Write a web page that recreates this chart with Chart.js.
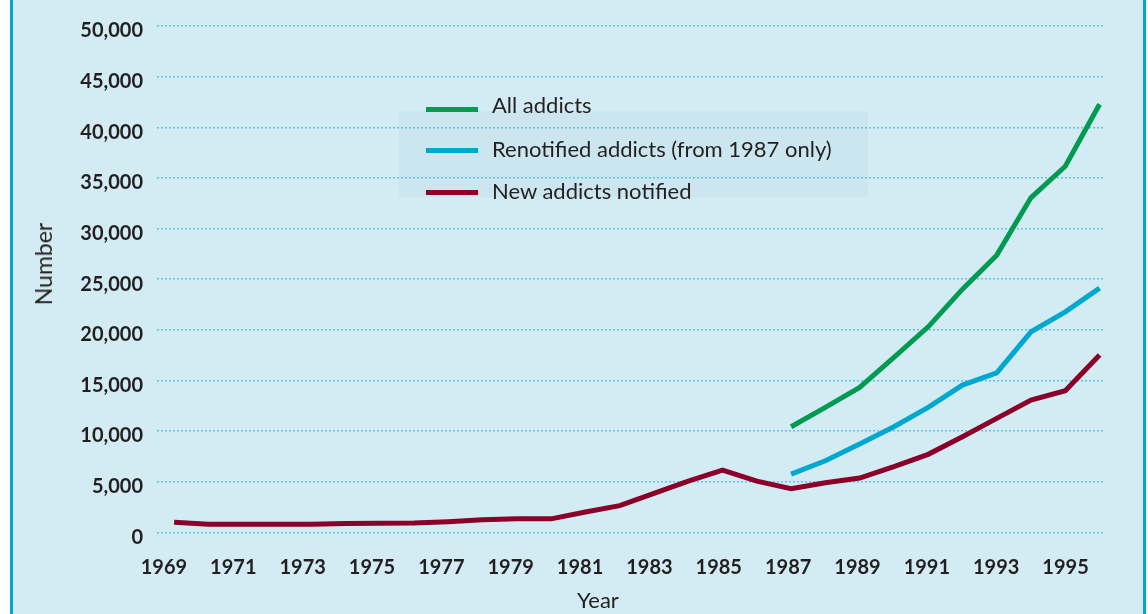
<!DOCTYPE html>
<html>
<head>
<meta charset="utf-8">
<script src="https://cdn.jsdelivr.net/npm/chart.js@4.4.0/dist/chart.umd.min.js"></script>
<style>
  html, body { margin: 0; padding: 0; background: #ffffff; width: 1148px; height: 614px; overflow: hidden; font-family: Lato, "Open Sans", sans-serif; color: #231f20; }
  #panel { position: absolute; left: 10px; top: 0; width: 1136px; height: 614px; background: #d3ecf3; border-left: 3px solid #00a8d0; border-right: 3px solid #00a8d0; box-sizing: border-box; }
  #legendBox { position: absolute; left: 399px; top: 111px; width: 469px; height: 86px; background: #cbe6ee; }
  #wrap { position: absolute; left: 0; top: 0; width: 1148px; height: 614px; }
  .lg-line { position: absolute; left: 426px; width: 52px; height: 5px; }
  .lg-text { position: absolute; left: 492px; font-size: 22px; line-height: 26px; white-space: nowrap; font-weight: 400; }
  .ax-title { position: absolute; font-size: 22px; line-height: 26px; white-space: nowrap; font-weight: 400; }
  #yTitle { font-size: 23px; }
</style>
</head>
<body>
<div id="panel"></div>
<div id="legendBox"></div>
<div id="wrap"><canvas id="c"></canvas></div>
<div id="legend"></div>
<div class="ax-title" id="xTitle"></div>
<div class="ax-title" id="yTitle"></div>
<script>
// ---- Data ----
const years = [1969,1970,1971,1972,1973,1974,1975,1976,1977,1978,1979,1980,1981,1982,1983,1984,1985,1986,1987,1988,1989,1990,1991,1992,1993,1994,1995,1996];
const allAddicts = [null,null,null,null,null,null,null,null,null,null,null,null,null,null,null,null,null,null,10420,12340,14310,17270,20290,24010,27370,33060,36150,42270];
const renotifiedAddicts = [null,null,null,null,null,null,null,null,null,null,null,null,null,null,null,null,null,null,5750,7070,8720,10420,12340,14540,15750,19800,21770,24110];
const newAddicts = [1000,800,790,790,790,870,900,920,1050,1250,1340,1330,2000,2630,3850,5050,6150,5050,4300,4900,5360,6480,7700,9440,11250,13060,13980,17500];
const xTickYears = [1969,1971,1973,1975,1977,1979,1981,1983,1985,1987,1989,1991,1993,1995];
const yTickValues = [0,5000,10000,15000,20000,25000,30000,35000,40000,45000,50000];
const seriesNames = ["All addicts", "Renotified addicts (from 1987 only)", "New addicts notified"];
const seriesColors = ["#009b50", "#00a8cf", "#8b0028"];
const xAxisTitle = "Year";
const yAxisTitle = "Number";

function pts(arr) { return years.map((y, i) => ({ x: y, y: arr[i] })); }

// Legend (HTML, real text)
const legendLineY = [109, 150, 192];
const legendTextTop = [92, 136, 178];
const legend = document.getElementById('legend');
seriesNames.forEach((name, i) => {
  const ln = document.createElement('div');
  ln.className = 'lg-line';
  ln.style.top = (legendLineY[i] - 2.5) + 'px';
  ln.style.background = seriesColors[i];
  legend.appendChild(ln);
  const tx = document.createElement('div');
  tx.className = 'lg-text';
  tx.style.top = legendTextTop[i] + 'px';
  tx.textContent = name;
  legend.appendChild(tx);
});

const xt = document.getElementById('xTitle');
xt.textContent = xAxisTitle;
xt.style.left = '577px'; xt.style.top = '587px';
const yt = document.getElementById('yTitle');
yt.textContent = yAxisTitle;
yt.style.left = '43px'; yt.style.top = '264px';
yt.style.transform = 'translate(-50%,-50%) rotate(-90deg)';

const tickFont = { family: 'Lato', size: 20, weight: 'bold' };

function draw() {
  new Chart(document.getElementById('c'), {
    type: 'line',
    data: {
      datasets: [
        { label: seriesNames[2], data: pts(newAddicts), borderColor: seriesColors[2], xAxisID: 'x' },
        { label: seriesNames[1], data: pts(renotifiedAddicts), borderColor: seriesColors[1], xAxisID: 'x' },
        { label: seriesNames[0], data: pts(allAddicts), borderColor: seriesColors[0], xAxisID: 'x' }
      ]
    },
    options: {
      responsive: true,
      maintainAspectRatio: false,
      animation: false,
      layout: { padding: { top: 26, right: 45, bottom: 0, left: 0 } },
      plugins: { legend: { display: false }, tooltip: { enabled: false } },
      elements: {
        point: { radius: 0, hoverRadius: 0 },
        line: { tension: 0, borderWidth: 5, borderCapStyle: 'butt', borderJoinStyle: 'miter', fill: false }
      },
      scales: {
        x: {
          type: 'linear',
          position: 'bottom',
          display: false,
          min: 1968.5,
          max: 1996.1
        },
        xLabels: {
          type: 'linear',
          position: 'bottom',
          min: 1968.8,
          max: 1996.08,
          grid: { display: false, drawTicks: false },
          border: { display: false },
          afterBuildTicks: (s) => { s.ticks = xTickYears.map(v => ({ value: v })); },
          afterFit: (s) => { s.height = 81.7; },
          ticks: {
            padding: 23, autoSkip: false, maxRotation: 0,
            color: '#231f20',
            font: tickFont,
            callback: (v) => String(v)
          },
          title: { display: false }
        },
        y: {
          min: 0,
          max: 50000,
          grid: { color: '#5cc5e1', lineWidth: 1.5, drawTicks: false },
          border: { display: false, dash: [2, 2] },
          afterBuildTicks: (s) => { s.ticks = yTickValues.map(v => ({ value: v })); },
          afterFit: (s) => { s.width = 157; },
          ticks: {
            padding: 14, labelOffset: 5, autoSkip: false,
            color: '#231f20',
            font: tickFont,
            callback: (v) => Number(v).toLocaleString('en-US')
          },
          title: { display: false }
        }
      }
    }
  });
}

if (document.fonts && document.fonts.load) {
  Promise.all([
    document.fonts.load('bold 20px Lato'),
    document.fonts.load('400 22px Lato')
  ]).then(draw, draw);
} else { draw(); }
</script>
</body>
</html>
